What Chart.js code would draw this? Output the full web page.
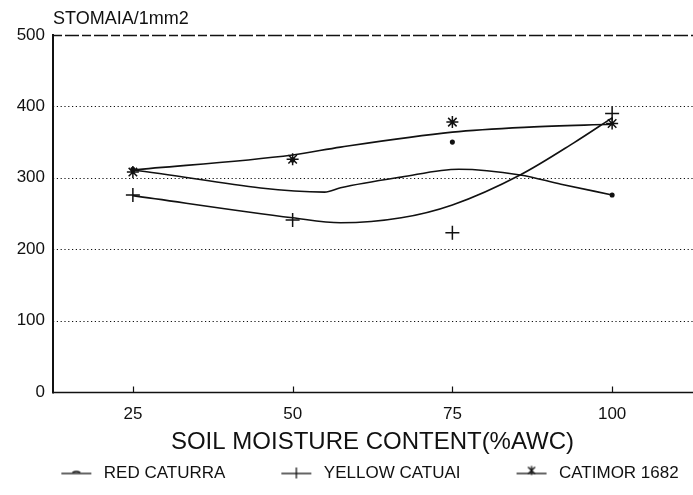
<!DOCTYPE html>
<html>
<head>
<meta charset="utf-8">
<title>Stomata density vs soil moisture</title>
<script src="https://cdn.jsdelivr.net/npm/chart.js@4.4.1/dist/chart.umd.min.js"></script>
<style>
  html, body { margin: 0; padding: 0; background: #fff; }
  #wrap { width: 693px; height: 495px; }
</style>
</head>
<body>
<div id="wrap"><canvas id="chart" width="693" height="495"></canvas></div>
<script>
// Soil moisture treatments (% available water capacity)
const moisture = [25, 50, 75, 100];
const xTicks = [25, 50, 75, 100];
const yTicks = [0, 100, 200, 300, 400, 500];

// Observed stomata counts per mm2
const redCaturra   = [312, 325, 350, 276];
const yellowCatuai = [276, 241, 223, 390];
const catimor1682  = [308, 326, 378, 376];

// Fitted response curves (x = %AWC, y = stomata per mm2)
const redCurveX     = [25, 55, 57.5, 67, 76, 85.6, 92, 100];
const redCurveY     = [311, 280, 286, 301, 312, 304, 291, 276];
const yellowCurveX  = [25, 50, 57.5, 67, 75, 85.6, 94, 100];
const yellowCurveY  = [275, 244, 237, 244, 262, 304, 349, 384];
const catimorCurveX = [25, 50, 57.5, 75, 87, 100];
const catimorCurveY = [311, 332, 343, 364, 371, 375];

const seriesNames = ['RED CATURRA', 'YELLOW CATUAI', 'CATIMOR 1682'];

const INK = '#111';
const FONT = '"Liberation Sans", Arial, Helvetica, sans-serif';

const pairs = (xs, ys) => xs.map((x, i) => ({ x, y: ys[i] }));

// Small legend glyphs: a short line with the series marker in the middle
const ICON_LEAD = 48, ICON_LINE = 30, ICON_TRAIL = 4, ICON_H = 18;
function legendIcon(kind) {
  const c = document.createElement('canvas');
  c.width = ICON_LEAD + ICON_LINE + ICON_TRAIL;
  c.height = ICON_H;
  const g = c.getContext('2d');
  g.strokeStyle = INK; g.fillStyle = INK; g.lineWidth = 1.3;
  const x0 = ICON_LEAD, x1 = ICON_LEAD + ICON_LINE, cy = ICON_H / 2, cx = (x0 + x1) / 2;
  g.beginPath(); g.moveTo(x0, cy); g.lineTo(x1, cy); g.stroke();
  if (kind === 'dot') {
    g.beginPath(); g.moveTo(cx - 4, cy - 1); g.quadraticCurveTo(cx, cy - 3, cx + 4, cy - 1); g.stroke();
  } else if (kind === 'plus') {
    g.beginPath(); g.moveTo(cx, cy - 6); g.lineTo(cx, cy + 5); g.stroke();
  } else if (kind === 'star') {
    const sy = cy - 3, r = 3.5;
    g.beginPath();
    g.moveTo(cx - r, sy - r); g.lineTo(cx + r, sy + r);
    g.moveTo(cx + r, sy - r); g.lineTo(cx - r, sy + r);
    g.moveTo(cx, sy - r - 1); g.lineTo(cx, sy + r + 1);
    g.stroke();
  }
  return c;
}
const icons = [legendIcon('dot'), legendIcon('plus'), legendIcon('star')];

// Axes, grid lines and tick marks drawn from the chart's own scales
const plotFrame = {
  id: 'plotFrame',
  beforeDatasetsDraw(chart) {
    const { ctx, chartArea: a, scales: { x, y } } = chart;
    const right = chart.width;
    ctx.save();
    ctx.strokeStyle = INK;
    // horizontal reference lines
    yTicks.forEach(v => {
      if (v === 0) return;
      const py = Math.round(y.getPixelForValue(v)) + 0.5;
      ctx.beginPath();
      if (v === 500) { ctx.setLineDash([9, 3, 14, 3]); ctx.lineWidth = 1.5; }
      else { ctx.setLineDash([1.2, 2.6]); ctx.lineWidth = 1.1; }
      ctx.moveTo(a.left, py); ctx.lineTo(right, py); ctx.stroke();
    });
    ctx.setLineDash([]);
    // x axis
    const by = Math.round(y.getPixelForValue(0)) + 0.5;
    ctx.lineWidth = 1.5;
    ctx.beginPath(); ctx.moveTo(a.left, by); ctx.lineTo(right, by); ctx.stroke();
    // x tick marks pointing inward
    ctx.lineWidth = 1.2;
    xTicks.forEach(v => {
      const px = Math.round(x.getPixelForValue(v)) + 0.5;
      ctx.beginPath(); ctx.moveTo(px, by); ctx.lineTo(px, by - 6); ctx.stroke();
    });
    // y axis
    ctx.lineWidth = 2;
    ctx.beginPath(); ctx.moveTo(a.left, a.top - 1); ctx.lineTo(a.left, by + 1); ctx.stroke();
    ctx.restore();
  }
};

const curveStyle = {
  type: 'line', showLine: true, pointRadius: 0, borderColor: INK, borderWidth: 1.6,
  cubicInterpolationMode: 'monotone', fill: false
};
const markerStyle = {
  type: 'line', showLine: false, borderColor: INK, backgroundColor: INK, pointBorderWidth: 1.5
};

const chart = new Chart(document.getElementById('chart'), {
  type: 'line',
  data: {
    datasets: [
      { ...curveStyle, label: 'red-fit', data: pairs(redCurveX, redCurveY) },
      { ...curveStyle, label: 'yellow-fit', data: pairs(yellowCurveX, yellowCurveY) },
      { ...curveStyle, label: 'catimor-fit', data: pairs(catimorCurveX, catimorCurveY) },
      { ...markerStyle, label: seriesNames[0], data: pairs(moisture, redCaturra),
        pointStyle: 'circle', pointRadius: 1.8 },
      { ...markerStyle, label: seriesNames[1], data: pairs(moisture, yellowCatuai),
        pointStyle: 'cross', pointRadius: 7 },
      { ...markerStyle, label: seriesNames[2], data: pairs(moisture, catimor1682),
        pointStyle: 'star', pointRadius: 6 }
    ]
  },
  options: {
    responsive: false,
    animation: false,
    devicePixelRatio: 1,
    layout: { autoPadding: false, padding: { top: 4, left: 0, right: 1, bottom: 3 } },
    plugins: {
      tooltip: { enabled: false },
      title: {
        display: true, text: 'STOMAIA/1mm2', align: 'start', fullSize: false,
        color: INK, font: { family: FONT, size: 18, weight: 'normal' },
        padding: { top: 4, bottom: 5.4 }
      },
      legend: {
        position: 'bottom',
        labels: {
          color: INK,
          font: { family: FONT, size: 17 },
          usePointStyle: true,
          pointStyleWidth: ICON_LEAD + ICON_LINE + ICON_TRAIL,
          padding: 8,
          generateLabels: () => seriesNames.map((name, i) => ({
            text: name, pointStyle: icons[i], fillStyle: INK, strokeStyle: INK,
            lineWidth: 0, hidden: false, datasetIndex: 3 + i, fontColor: INK
          }))
        }
      }
    },
    scales: {
      x: {
        type: 'linear', min: 12.5, max: 112.5,
        afterBuildTicks: s => { s.ticks = xTicks.map(v => ({ value: v })); },
        afterFit: s => {
          s.height = 495 - 3 - s.chart.legend.height - 392;
          s.paddingLeft = 0; s.paddingRight = 0;
        },
        grid: { display: false, drawTicks: false },
        border: { display: false },
        ticks: { color: INK, font: { family: FONT, size: 17 }, padding: 12, maxRotation: 0 },
        title: {
          display: true, text: 'SOIL MOISTURE CONTENT(%AWC)', color: INK,
          font: { family: FONT, size: 24 }, padding: { top: 0, bottom: 0 }
        }
      },
      y: {
        min: 0, max: 500,
        afterBuildTicks: s => { s.ticks = yTicks.map(v => ({ value: v })); },
        afterFit: s => { s.width = 53; },
        grid: { display: false, drawTicks: false },
        border: { display: false },
        ticks: { color: INK, font: { family: FONT, size: 17 }, padding: 8 }
      }
    }
  },
  plugins: [plotFrame]
});
</script>
</body>
</html>
